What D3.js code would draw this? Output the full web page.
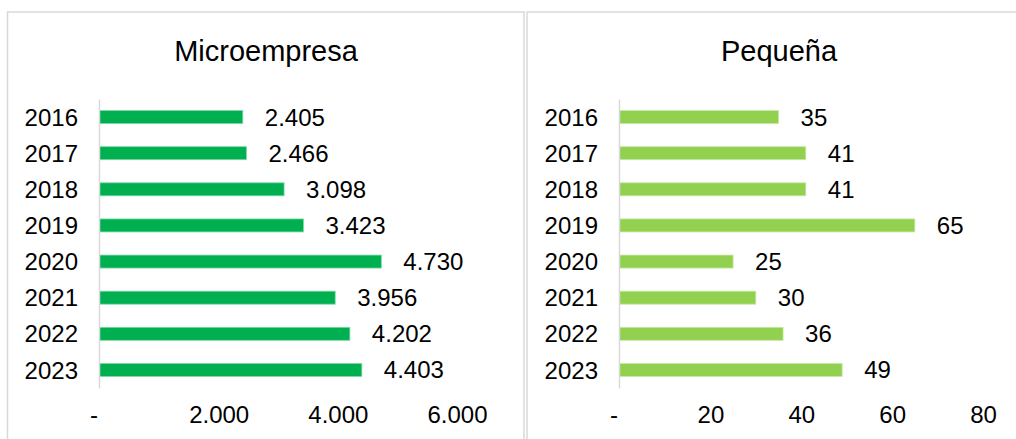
<!DOCTYPE html>
<html>
<head>
<meta charset="utf-8">
<script src="https://cdn.jsdelivr.net/npm/d3@7"></script>
<style>
  body { margin: 0; background: #fff; }
  svg { display: block; font-family: "Liberation Sans", Arial, sans-serif; }
</style>
</head>
<body>
<div id="chart"></div>
<script>
// data
const years = ['2016', '2017', '2018', '2019', '2020', '2021', '2022', '2023'];
const microValues = [2405, 2466, 3098, 3423, 4730, 3956, 4202, 4403];
const pequenaValues = [35, 41, 41, 65, 25, 30, 36, 49];
const microTicks = [0, 2000, 4000, 6000];
const pequenaTicks = [0, 20, 40, 60, 80];

const esLocale = d3.formatLocale({ decimal: ',', thousands: '.', grouping: [3], currency: ['', ' €'] });
const fmt = esLocale.format(',d');
const numFmt = v => v === 0 ? '-' : fmt(v);

const svg = d3.select('#chart')
  .append('svg')
  .attr('width', 1016)
  .attr('height', 439);

const panels = [
  { title: 'Microempresa', values: microValues, ticks: microTicks, color: '#00B050', stroke: '#7fd8a7',
    box: [7.5, 12, 516.5, 440], titleX: 266, x0: 99.5, x1: 457 },
  { title: 'Pequeña', values: pequenaValues, ticks: pequenaTicks, color: '#92D050', stroke: '#c8e8a7',
    box: [527, 12, 520, 440], titleX: 779, x0: 619.5, x1: 983 }
];

panels.forEach(p => {
  const g = svg.append('g');

  // chart frame
  g.append('rect')
    .attr('x', p.box[0]).attr('y', p.box[1])
    .attr('width', p.box[2]).attr('height', p.box[3])
    .attr('fill', '#fff')
    .attr('stroke', '#d9d9d9')
    .attr('stroke-width', 1.5);

  g.append('text')
    .attr('x', p.titleX).attr('y', 61)
    .attr('text-anchor', 'middle')
    .style('font-size', '29px')
    .attr('fill', '#000')
    .text(p.title);

  const x = d3.scaleLinear()
    .domain([0, p.ticks[p.ticks.length - 1]])
    .range([p.x0, p.x1]);

  const y = d3.scaleBand()
    .domain(years)
    .range([99, 388])
    .paddingInner(0.64)
    .paddingOuter(0.32);

  // bars
  g.selectAll('rect.bar')
    .data(p.values)
    .enter()
    .append('rect')
    .attr('class', 'bar')
    .attr('x', x(0))
    .attr('y', (d, i) => y(years[i]))
    .attr('width', d => x(d) - x(0))
    .attr('height', y.bandwidth())
    .attr('fill', p.color)
    .attr('stroke', p.stroke)
    .attr('stroke-width', 0.8);

  // data labels
  g.selectAll('text.lbl')
    .data(p.values)
    .enter()
    .append('text')
    .attr('class', 'lbl')
    .attr('x', d => x(d) + 22)
    .attr('y', (d, i) => y(years[i]) + y.bandwidth() / 2 + 8.5)
    .style('font-size', '24px')
    .attr('fill', '#000')
    .text(d => numFmt(d));

  // y axis
  const yAxis = g.append('g')
    .attr('transform', `translate(${p.x0 - 0.5},0)`)
    .call(d3.axisLeft(y).tickSize(0).tickPadding(21).tickSizeOuter(0));
  yAxis.select('.domain').attr('stroke', '#d9d9d9').attr('stroke-width', 1.5);
  yAxis.selectAll('text')
    .style('font-size', '24px')
    .style('font-family', '"Liberation Sans", Arial, sans-serif')
    .attr('fill', '#000')
    .attr('dy', '0.36em');

  // x axis (labels only)
  const xAxis = g.append('g')
    .attr('transform', 'translate(0,398)')
    .call(d3.axisBottom(x).tickValues(p.ticks).tickFormat(numFmt).tickSize(0).tickPadding(8));
  xAxis.select('.domain').remove();
  xAxis.selectAll('text')
    .style('font-size', '24px')
    .style('font-family', '"Liberation Sans", Arial, sans-serif')
    .attr('fill', '#000')
    .attr('dx', d => d === 0 ? -6 : 0);
});
</script>
</body>
</html>
